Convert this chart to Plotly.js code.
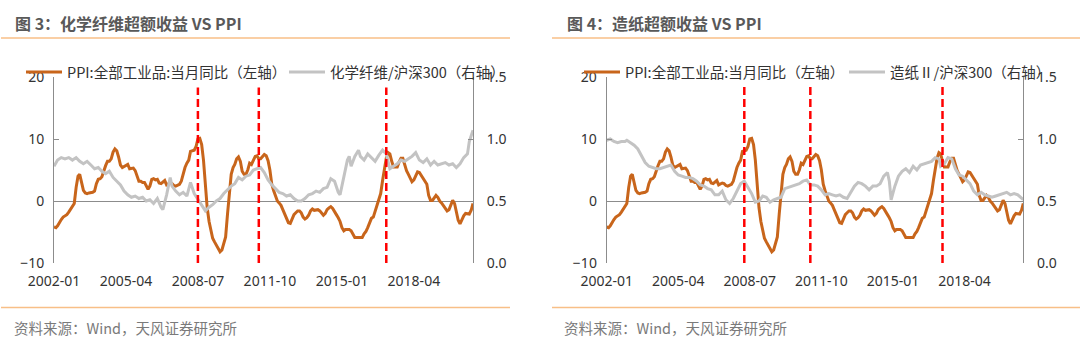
<!DOCTYPE html>
<html>
<head>
<meta charset="utf-8">
<script src="https://cdn.plot.ly/plotly-3.0.1.min.js"></script>
<style>
html,body{margin:0;padding:0;background:#fff;}
#chart{width:1080px;height:347px;}
</style>
</head>
<body>
<div id="chart"></div>
<script>
// ---------- DATA ----------
const startMonth = '2002-01';
const ppi = [
  -4.2,-4.3,-4.0,-3.4,-3.0,-2.6,-2.4,-2.2,-1.8,-1.3,-0.8,-0.4,
  2.2,4.0,4.3,3.0,1.7,1.3,1.2,1.3,1.3,1.4,1.6,2.8,
  3.5,3.6,3.9,5.0,5.7,6.4,6.4,6.8,7.9,8.4,8.1,7.1,
  5.8,5.4,5.6,5.8,5.9,5.2,5.2,5.3,4.9,4.0,3.2,3.2,
  3.0,3.0,2.5,1.9,2.4,3.5,3.6,3.4,3.5,2.9,2.8,3.1,
  3.3,2.6,2.7,2.9,2.8,2.5,2.4,2.6,2.7,3.2,4.6,5.4,
  6.1,6.6,8.0,8.1,8.2,8.8,10.0,10.1,9.1,6.6,2.0,-1.1,
  -3.3,-4.5,-6.0,-6.6,-7.2,-7.8,-8.2,-7.9,-7.0,-5.8,-2.1,1.7,
  4.3,5.4,5.9,6.8,7.1,6.4,4.8,4.3,4.3,5.0,6.1,5.9,
  6.6,7.2,7.3,6.8,6.8,7.1,7.5,7.3,6.5,5.0,2.7,1.7,
  0.7,0.0,-0.3,-0.7,-1.4,-2.1,-2.9,-3.5,-3.6,-2.8,-2.2,-1.9,
  -1.6,-1.6,-1.9,-2.6,-2.9,-2.7,-2.3,-1.6,-1.3,-1.5,-1.4,-1.4,
  -1.6,-2.0,-2.3,-2.0,-1.4,-1.1,-0.9,-1.2,-1.8,-2.2,-2.7,-3.3,
  -4.3,-4.8,-4.6,-4.6,-4.6,-4.8,-5.4,-5.9,-5.9,-5.9,-5.9,-5.9,
  -5.3,-4.9,-4.3,-3.4,-2.8,-2.6,-1.7,-0.8,0.1,1.2,3.3,5.5,
  6.9,7.8,7.6,6.4,5.5,5.5,5.5,6.3,6.9,6.9,5.8,4.9,
  4.3,3.7,3.1,3.4,4.1,4.7,4.6,4.1,3.6,3.3,2.7,0.9,
  0.1,0.1,0.4,0.9,0.6,0.0,-0.3,-0.8,-1.2,-1.6,-1.4,-0.5,
  0.1,-0.4,-1.5,-3.1,-3.7,-3.0,-2.4,-2.0,-2.1,-2.1,-1.5,-0.4
];

const fiberDates = ['2002-01','2002-03','2002-05','2002-07','2002-09','2002-11','2003-01','2003-03','2003-05','2003-07','2003-09','2003-11',
  '2004-01','2004-03','2004-05','2004-07','2004-09','2004-11','2005-01','2005-03','2005-05','2005-07','2005-09','2005-11',
  '2006-01','2006-03','2006-05','2006-07','2006-09','2006-11','2006-12','2007-02','2007-04','2007-05','2007-07','2007-09','2007-11',
  '2008-01','2008-03','2008-05','2008-07','2008-09','2008-11','2009-01','2009-03','2009-05','2009-07','2009-09','2009-11',
  '2010-01','2010-03','2010-05','2010-07','2010-09','2010-11','2011-01','2011-03','2011-05','2011-07','2011-09','2011-11',
  '2012-01','2012-03','2012-05','2012-07','2012-09','2012-11','2013-01','2013-03','2013-05','2013-07','2013-09','2013-11',
  '2014-01','2014-03','2014-05','2014-07','2014-09','2014-11','2014-12','2015-02','2015-04','2015-05','2015-06','2015-08','2015-10','2015-11',
  '2016-01','2016-03','2016-05','2016-07','2016-09','2016-11','2017-01','2017-03','2017-05','2017-07','2017-09','2017-11',
  '2018-01','2018-03','2018-05','2018-07','2018-09','2018-11','2019-01','2019-03','2019-05','2019-07','2019-09','2019-11',
  '2020-01','2020-03','2020-05','2020-07','2020-09','2020-10','2020-12'];
const fiberRatio = [0.78,0.83,0.85,0.84,0.85,0.83,0.85,0.82,0.80,0.82,0.79,0.76,
  0.77,0.74,0.72,0.74,0.69,0.66,0.63,0.58,0.55,0.53,0.54,0.52,
  0.53,0.50,0.51,0.48,0.52,0.45,0.43,0.55,0.69,0.62,0.58,0.55,0.57,
  0.54,0.65,0.56,0.51,0.46,0.42,0.45,0.47,0.50,0.52,0.56,0.59,
  0.62,0.64,0.69,0.67,0.70,0.71,0.75,0.76,0.77,0.73,0.67,0.63,
  0.60,0.57,0.56,0.54,0.55,0.52,0.50,0.50,0.52,0.55,0.56,0.58,
  0.57,0.60,0.61,0.68,0.66,0.57,0.55,0.70,0.83,0.86,0.78,0.86,0.91,0.86,
  0.83,0.88,0.85,0.82,0.87,0.91,0.88,0.76,0.78,0.80,0.83,0.82,
  0.84,0.86,0.89,0.83,0.81,0.84,0.79,0.82,0.79,0.80,0.81,0.79,
  0.80,0.77,0.80,0.85,0.88,0.98,1.07];

const paperDates = ['2002-01','2002-03','2002-05','2002-07','2002-09','2002-11','2002-12','2003-02','2003-04','2003-06','2003-08','2003-10','2003-12',
  '2004-02','2004-04','2004-06','2004-08','2004-10','2004-12','2005-02','2005-04','2005-06','2005-08','2005-10','2005-12',
  '2006-02','2006-04','2006-06','2006-08','2006-10','2006-12','2007-02','2007-04','2007-06','2007-08','2007-10','2007-12',
  '2008-02','2008-04','2008-06','2008-08','2008-10','2008-12','2009-02','2009-04','2009-06','2009-08','2009-10','2009-12',
  '2010-02','2010-04','2010-06','2010-08','2010-10','2010-12','2011-02','2011-04','2011-06','2011-08','2011-10','2011-12',
  '2012-02','2012-04','2012-06','2012-08','2012-10','2012-12','2013-02','2013-04','2013-06','2013-08','2013-10','2013-12',
  '2014-02','2014-04','2014-06','2014-08','2014-10','2014-11','2014-12','2015-02','2015-04','2015-06','2015-08','2015-10','2015-12',
  '2016-02','2016-04','2016-06','2016-08','2016-10','2016-12','2017-02','2017-03','2017-05','2017-07','2017-09','2017-11',
  '2018-01','2018-03','2018-05','2018-07','2018-09','2018-11','2019-01','2019-03','2019-05','2019-07','2019-09','2019-11',
  '2020-01','2020-03','2020-05','2020-07','2020-09','2020-11','2020-12'];
const paperRatio = [0.99,1.00,0.98,0.97,0.98,0.98,0.99,0.97,0.95,0.92,0.87,0.81,0.78,
  0.77,0.76,0.76,0.77,0.78,0.79,0.74,0.71,0.70,0.69,0.69,0.68,
  0.66,0.63,0.62,0.60,0.59,0.55,0.55,0.58,0.51,0.48,0.52,0.58,
  0.64,0.66,0.61,0.56,0.49,0.50,0.54,0.53,0.49,0.51,0.52,0.53,
  0.60,0.61,0.62,0.63,0.64,0.66,0.67,0.63,0.63,0.62,0.59,0.55,
  0.56,0.55,0.54,0.55,0.53,0.52,0.57,0.62,0.65,0.64,0.62,0.59,
  0.62,0.62,0.64,0.70,0.73,0.66,0.51,0.62,0.70,0.74,0.76,0.73,0.78,
  0.75,0.79,0.80,0.81,0.82,0.85,0.84,0.78,0.80,0.85,0.84,0.76,
  0.71,0.70,0.67,0.64,0.58,0.55,0.57,0.55,0.54,0.53,0.54,0.55,
  0.56,0.57,0.55,0.56,0.55,0.52,0.51];

const tickDates = ['2002-01','2005-04','2008-07','2011-10','2015-01','2018-04'];
const redLinesLeft = ['2008-07','2011-04','2017-01'];
const redLinesRight = ['2008-04','2011-04','2017-04'];

const ppiName = 'PPI:全部工业品:当月同比（左轴）';
const fiberName = '化学纤维/沪深300（右轴）';
const paperName = '造纸Ⅱ/沪深300（右轴）';
const titleLeft = '图 3：化学纤维超额收益 VS PPI';
const titleRight = '图 4：造纸超额收益 VS PPI';
const sourceText = '资料来源：Wind，天风证券研究所';

// ---------- BUILD ----------
function monthSeries(start, n){
  const [y0,m0] = start.split('-').map(Number);
  const out = [];
  for(let i=0;i<n;i++){
    const t = (m0-1)+i;
    const y = y0 + Math.floor(t/12), m = t%12+1;
    out.push(y + '-' + String(m).padStart(2,'0'));
  }
  return out;
}
const ppiDates = monthSeries(startMonth, ppi.length);
const xRange = [ppiDates[0] + '-01', ppiDates[ppiDates.length-1] + '-01'];

const ORANGE = '#c8651b', GRAY = '#c3c3c3', AXIS = '#8c8c8c';
const CJK = '"Noto Sans CJK SC", "Noto Sans", sans-serif';
const NUM = '"Noto Sans", "DejaVu Sans", sans-serif';
const W = 1080, H = 347;

const yDom = [1-263/H, 1-77/H];
const xDomL = [54/W, 473/W];
const xDomR = [606.7/W, 1023.3/W];

const traces = [
  {x: ppiDates, y: ppi, type:'scatter', mode:'lines', name: ppiName,
   line:{color:ORANGE, width:3}, xaxis:'x', yaxis:'y', legend:'legend'},
  {x: fiberDates, y: fiberRatio, type:'scatter', mode:'lines', name: fiberName,
   line:{color:GRAY, width:3}, xaxis:'x', yaxis:'y2', legend:'legend2'},
  {x: ppiDates, y: ppi, type:'scatter', mode:'lines', name: ppiName,
   line:{color:ORANGE, width:3}, xaxis:'x2', yaxis:'y3', legend:'legend3'},
  {x: paperDates, y: paperRatio, type:'scatter', mode:'lines', name: paperName,
   line:{color:GRAY, width:3}, xaxis:'x2', yaxis:'y4', legend:'legend4'}
];

function xAxis(dom){
  return {domain: dom, type:'date', range: xRange, showgrid:false, showline:false, zeroline:false,
    tickvals: tickDates.map(d=>d+'-01'), ticktext: tickDates, ticks:'',
    tickfont:{family:NUM, size:14, color:'#333'}, ticklabelstandoff: 8, automargin:false};
}
function yLeft(anchor){
  return {domain: yDom, anchor: anchor, range:[-10,20], tickvals:[-10,0,10,20], showgrid:false,
    showline:true, linecolor:AXIS, linewidth:1, ticks:'inside', ticklen:5, tickcolor:AXIS,
    zeroline:true, zerolinecolor:AXIS, zerolinewidth:1, automargin:false,
    tickfont:{family:NUM, size:14, color:'#333'}, ticklabelstandoff: 6};
}
function yRight(anchor, over){
  return {domain: yDom, anchor: anchor, overlaying: over, side:'right', range:[0,1.5],
    tickvals:[0,0.5,1.0,1.5], tickformat:'.1f', showgrid:false, zeroline:false,
    showline:true, linecolor:AXIS, linewidth:1, ticks:'inside', ticklen:5, tickcolor:AXIS,
    automargin:false, tickfont:{family:NUM, size:14, color:'#333'}, ticklabelstandoff: 10};
}
const zeroPos = yDom[0] + (yDom[1]-yDom[0]) * (0-(-10))/(20-(-10));
function tickOverlay(over){
  return {overlaying: over, anchor:'free', position: zeroPos, type:'date', range: xRange,
    tickvals: tickDates.map(d=>d+'-01'), showticklabels:false, ticks:'inside', ticklen:5,
    tickcolor:AXIS, showline:false, showgrid:false, zeroline:false, side:'bottom', automargin:false};
}

const shapes = [];
function sep(x0,x1,y){
  shapes.push({type:'line', xref:'paper', yref:'paper', x0:x0/W, x1:x1/W, y0:1-y/H, y1:1-y/H,
    line:{color:'#f8bf87', width:1.5}});
}
sep(1, 510, 38); sep(552, 1080, 38);
sep(1, 510, 307.5); sep(552, 1080, 307.5);
function red(xref, yref, d, top){
  shapes.push({type:'line', xref:xref, yref:yref, x0:d+'-01', x1:d+'-01', y0:-10, y1:top,
    line:{color:'#ff0000', width:2.5, dash:'8px,4px'}, layer:'above'});
}
redLinesLeft.forEach(d=>red('x','y',d,18.3));
redLinesRight.forEach(d=>red('x2','y3',d,19));

const annotations = [
  {xref:'paper', yref:'paper', x:13/W, y:1-23/H, xanchor:'left', yanchor:'middle', showarrow:false,
   text:'<b>'+titleLeft+'</b>', font:{family:CJK, size:16, color:'#595959'}},
  {xref:'paper', yref:'paper', x:565/W, y:1-23/H, xanchor:'left', yanchor:'middle', showarrow:false,
   text:'<b>'+titleRight+'</b>', font:{family:CJK, size:16, color:'#595959'}},
  {xref:'paper', yref:'paper', x:12/W, y:1-327/H, xanchor:'left', yanchor:'middle', showarrow:false,
   text:sourceText, font:{family:CJK, size:14.5, color:'#7a7a7a'}},
  {xref:'paper', yref:'paper', x:562/W, y:1-327/H, xanchor:'left', yanchor:'middle', showarrow:false,
   text:sourceText, font:{family:CJK, size:14.5, color:'#7a7a7a'}}
];

function legend(xpx){
  return {orientation:'h', x:xpx/W, xanchor:'left', y:1-72/H, yanchor:'middle',
    bgcolor:'rgba(0,0,0,0)', font:{family:CJK, size:14.5, color:'#333'}, itemwidth:36};
}

const layout = {
  width:W, height:H, autosize:false, margin:{l:0,r:0,t:0,b:0},
  paper_bgcolor:'#fff', plot_bgcolor:'rgba(0,0,0,0)', showlegend:true,
  xaxis: xAxis(xDomL), yaxis: yLeft('x'), yaxis2: yRight('x','y'),
  xaxis2: xAxis(xDomR), yaxis3: yLeft('x2'), yaxis4: yRight('x2','y3'),
  xaxis3: tickOverlay('x'), xaxis4: tickOverlay('x2'),
  legend: legend(21), legend2: legend(284), legend3: legend(579), legend4: legend(844),
  shapes: shapes, annotations: annotations
};

Plotly.newPlot('chart', traces, layout, {displayModeBar:false, staticPlot:true});
</script>
</body>
</html>
